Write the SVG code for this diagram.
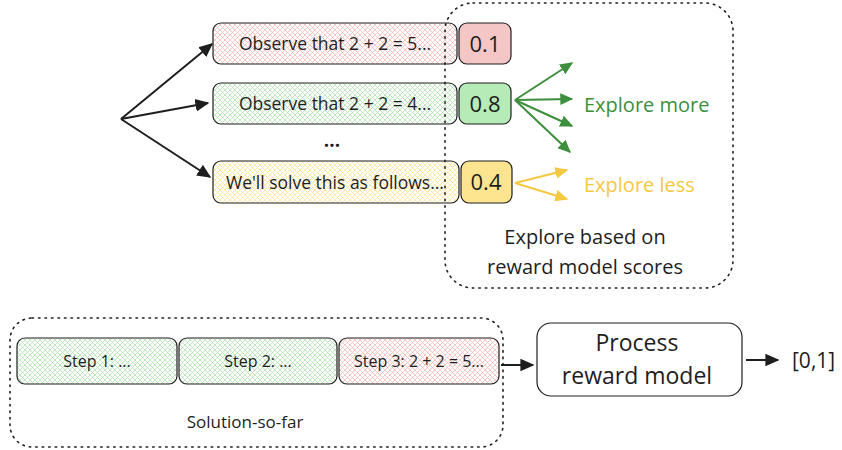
<svg xmlns="http://www.w3.org/2000/svg" width="842" height="450" viewBox="0 0 842 450">
<defs>
<style>
text{font-family:"Open Sans","Noto Sans",sans-serif;fill:#1e1e1e}
.box{stroke:#1e1e1e;stroke-width:1.2}
.dot{fill:none;stroke:#1e1e1e;stroke-width:1.6;stroke-dasharray:1.5 5;stroke-linecap:round}
.t15{font-size:17.5px}
.ts{font-size:16px}
.t20{font-size:22px}
.conn{fill:none;stroke:#1e1e1e;stroke-width:2}
.g{stroke:#3d8f3d;fill:none;stroke-width:2}
.y{stroke:#f5c842;fill:none;stroke-width:2}
</style>
<pattern id="hr" width="5" height="5" patternUnits="userSpaceOnUse"><rect width="5" height="5" fill="#fff"/><path d="M0 0L5 5M5 0L0 5" stroke="#f4b3b3" stroke-width="0.7"/></pattern>
<pattern id="hg" width="5" height="5" patternUnits="userSpaceOnUse"><rect width="5" height="5" fill="#fff"/><path d="M0 0L5 5M5 0L0 5" stroke="#a8e0a8" stroke-width="0.7"/></pattern>
<pattern id="hy" width="5" height="5" patternUnits="userSpaceOnUse"><rect width="5" height="5" fill="#fff"/><path d="M0 0L5 5M5 0L0 5" stroke="#fbe08a" stroke-width="0.7"/></pattern>
<marker id="ak" viewBox="0 0 10 10" refX="9" refY="5" markerWidth="7" markerHeight="7" orient="auto"><path d="M0 0.5L10 5L0 9.5z" fill="#1e1e1e"/></marker>
<marker id="ag" viewBox="0 0 10 10" refX="9" refY="5" markerWidth="6.5" markerHeight="6.5" orient="auto"><path d="M0 0.5L10 5L0 9.5z" fill="#3d8f3d"/></marker>
<marker id="ay" viewBox="0 0 10 10" refX="9" refY="5" markerWidth="6.5" markerHeight="6.5" orient="auto"><path d="M0 0.5L10 5L0 9.5z" fill="#f5c842"/></marker>
</defs>
<rect width="842" height="450" fill="#fff"/>

<g id="cand1"><rect class="box" x="213" y="23" width="244" height="41" rx="8" fill="url(#hr)"/><text class="t15" x="335" y="50" text-anchor="middle">Observe that 2 + 2 = 5...</text></g>
<g id="score1"><rect class="box" x="459" y="23" width="52" height="41" rx="8" fill="#f5c6c6"/><text class="t20" x="485" y="51.5" text-anchor="middle">0.1</text></g>
<g id="cand2"><rect class="box" x="213" y="83" width="244" height="41" rx="8" fill="url(#hg)"/><text class="t15" x="335" y="110" text-anchor="middle">Observe that 2 + 2 = 4...</text></g>
<g id="score2"><rect class="box" x="459" y="83" width="52" height="41" rx="8" fill="#b6eab6"/><text class="t20" x="485" y="111.5" text-anchor="middle">0.8</text></g>
<g id="dots"><text x="332" y="147" text-anchor="middle" font-size="19" font-weight="bold">...</text></g>
<g id="cand3"><rect class="box" x="213" y="161" width="246" height="42" rx="8" fill="url(#hy)"/><text class="t15" x="335" y="188.5" text-anchor="middle">We'll solve this as follows...</text></g>
<g id="score3"><rect class="box" x="461" y="161" width="51" height="42" rx="8" fill="#fde48f"/><text class="t20" x="486" y="190" text-anchor="middle">0.4</text></g>

<g id="explore-frame"><rect class="dot" x="445" y="3" width="288" height="285" rx="28"/>
<text x="584" y="112" font-size="20" style="fill:#3d8f3d">Explore more</text>
<text x="584" y="192" font-size="20" style="fill:#f5c842">Explore less</text>
<text x="585" y="244" text-anchor="middle" font-size="20">Explore based on</text>
<text x="585" y="274" text-anchor="middle" font-size="20">reward model scores</text></g>

<g id="solution"><rect class="dot" x="10" y="318" width="493" height="129" rx="22"/>
<text x="245" y="428" text-anchor="middle" font-size="17">Solution-so-far</text></g>
<g id="step1"><rect class="box" x="17" y="338" width="160" height="46" rx="8" fill="url(#hg)"/><text class="ts" x="97" y="366.5" text-anchor="middle">Step 1: ...</text></g>
<g id="step2"><rect class="box" x="179" y="338" width="158" height="46" rx="8" fill="url(#hg)"/><text class="ts" x="258" y="366.5" text-anchor="middle">Step 2: ...</text></g>
<g id="step3"><rect class="box" x="339" y="338" width="160" height="46" rx="8" fill="url(#hr)"/><text class="ts" x="419" y="366.5" text-anchor="middle">Step 3: 2 + 2 = 5...</text></g>
<g id="prm"><rect class="box" x="537" y="323" width="205" height="73" rx="14" fill="#fff" stroke-width="1.5"/><text x="637" y="351" text-anchor="middle" font-size="23">Process</text><text x="637" y="384" text-anchor="middle" font-size="23">reward model</text></g>
<g id="out"><text x="792" y="368" font-size="21">[0,1]</text></g>

<g id="connectors">
<path class="conn" marker-end="url(#ak)" d="M121 119L212 44"/>
<path class="conn" marker-end="url(#ak)" d="M121 119L208 103"/>
<path class="conn" marker-end="url(#ak)" d="M121 119L210 177"/>
<path class="g" marker-end="url(#ag)" d="M515 100L572 63"/>
<path class="g" marker-end="url(#ag)" d="M515 100L572 99"/>
<path class="g" marker-end="url(#ag)" d="M515 100L572 126"/>
<path class="g" marker-end="url(#ag)" d="M515 100L570 152"/>
<path class="y" marker-end="url(#ay)" d="M515 183L567 170"/>
<path class="y" marker-end="url(#ay)" d="M515 183L567 199"/>
<path class="conn" marker-end="url(#ak)" d="M501 365L533 365"/>
<path class="conn" marker-end="url(#ak)" d="M746 360L778 360"/>
</g>
</svg>
